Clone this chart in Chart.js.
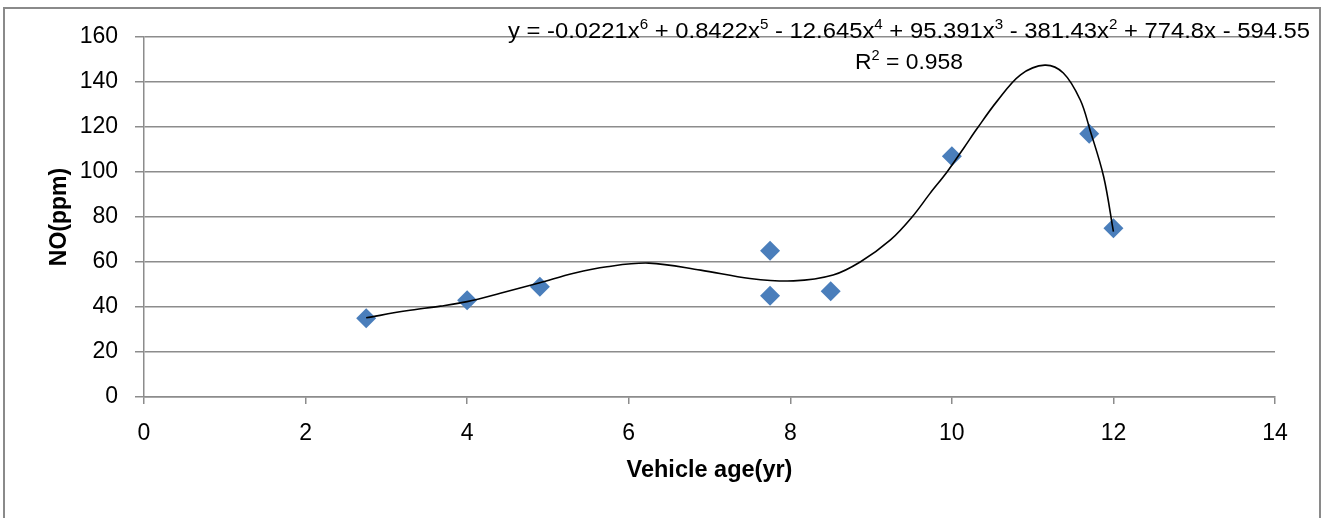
<!DOCTYPE html>
<html>
<head>
<meta charset="utf-8">
<script src="https://cdn.jsdelivr.net/npm/chart.js@4/dist/chart.umd.min.js"></script>
<style>
  html, body { margin:0; padding:0; background:#fff; }
  #wrap { position:relative; width:1329px; height:518px; }
  #frame { position:absolute; left:3px; top:7px; width:1314px; height:520px; border:2px solid #8a8a8a; pointer-events:none; }
</style>
</head>
<body>
<div id="wrap">
  <canvas id="chart" width="1329" height="518"></canvas>
  <div id="frame"></div>
</div>
<script>
// measured points
const ageYears = [2.75, 4, 4.9, 7.75, 7.75, 8.5, 10, 11.7, 12];
const noPpm    = [35, 43, 49, 65, 45, 47, 107, 117, 75];

// trendline
const trendX = [2.75, 3.25, 3.67, 4.0, 4.41, 4.9, 5.32, 5.73, 6.25, 6.89, 7.5, 8.04, 8.53, 8.87, 9.24, 9.51, 9.73, 9.94, 10.15, 10.31, 10.56, 10.85, 11.15, 11.38, 11.59, 11.71, 11.88, 12.0];
const trendY = [35.2, 38.3, 40.4, 42.4, 46.1, 50.8, 55.0, 57.9, 59.5, 56.4, 52.7, 51.6, 54.2, 60.1, 69.8, 80.1, 90.5, 100.0, 110.8, 119.2, 131.5, 143.2, 147.5, 144.0, 132.0, 118.7, 97.8, 73.5];

const xTitle = "Vehicle age(yr)";
const yTitle = "NO(ppm)";
// equation label pieces: [text, superscript]
const eqParts = [["y = -0.0221x","6"],[" + 0.8422x","5"],[" - 12.645x","4"],[" + 95.391x","3"],[" - 381.43x","2"],[" + 774.8x - 594.55",""]];
const r2Parts = [["R","2"],[" = 0.958",""]];

const FONT = "'Liberation Sans', Arial, sans-serif";
const gridColor = "#8c8c8c";

// draws text with superscripts, squeezed to fit between left and right
function drawSup(ctx, parts, left, right, base){
  const big = "22px " + FONT, small = "14px " + FONT;
  let w = 0;
  parts.forEach(p => {
    ctx.font = big; w += ctx.measureText(p[0]).width;
    ctx.font = small; w += ctx.measureText(p[1]).width;
  });
  ctx.save();
  ctx.fillStyle = "#000";
  ctx.textBaseline = "alphabetic";
  ctx.translate(left, base);
  ctx.scale((right - left) / w, 1);
  let x = 0;
  parts.forEach(p => {
    ctx.font = big; ctx.fillText(p[0], x, 0); x += ctx.measureText(p[0]).width;
    if (p[1]) { ctx.font = small; ctx.fillText(p[1], x, -9); x += ctx.measureText(p[1]).width; }
  });
  ctx.restore();
}

const trendLabel = {
  id: "trendLabel",
  afterDraw(chart){
    drawSup(chart.ctx, eqParts, 508, 1310, 38);
    drawSup(chart.ctx, r2Parts, 855, 963, 69);
  }
};

new Chart(document.getElementById("chart"), {
  type: "scatter",
  data: {
    datasets: [
      {
        label: "trend",
        data: trendX.map((x, i) => ({ x, y: trendY[i] })),
        showLine: true,
        borderColor: "#000",
        borderWidth: 1.6,
        pointRadius: 0,
        tension: 0.35,
        order: 0
      },
      {
        label: "NO",
        data: ageYears.map((x, i) => ({ x, y: noPpm[i] })),
        pointStyle: "rectRot",
        pointRadius: 10,
        backgroundColor: "#4a7ebb",
        borderColor: "#4a7ebb",
        borderWidth: 0,
        order: 1
      }
    ]
  },
  options: {
    responsive: false,
    animation: false,
    layout: { padding: { left: 0, top: 37, right: 54, bottom: 0 } },
    plugins: { legend: { display: false }, tooltip: { enabled: false } },
    scales: {
      x: {
        type: "linear", min: 0, max: 14,
        ticks: { stepSize: 2, color: "#000", font: { family: FONT, size: 23 }, padding: 16 },
        grid: { drawOnChartArea: false, drawTicks: true, tickLength: 7, color: gridColor, lineWidth: 1.5 },
        border: { color: gridColor, width: 1.5 },
        title: { display: true, text: xTitle, color: "#000", font: { family: FONT, size: 23.5, weight: "bold" }, padding: { top: 0, bottom: 33 } },
        afterFit(s){ s.height = 121; }
      },
      y: {
        min: 0, max: 160,
        ticks: { stepSize: 20, color: "#000", font: { family: FONT, size: 23 }, padding: 17 },
        grid: { color: gridColor, lineWidth: 1.5, tickLength: 9 },
        border: { color: gridColor, width: 1.5 },
        title: { display: true, text: yTitle, color: "#000", font: { family: FONT, size: 23, weight: "bold" }, padding: { top: 46, bottom: 0 } },
        afterFit(s){ s.width = 144; }
      }
    }
  },
  plugins: [trendLabel]
});
</script>
</body>
</html>
